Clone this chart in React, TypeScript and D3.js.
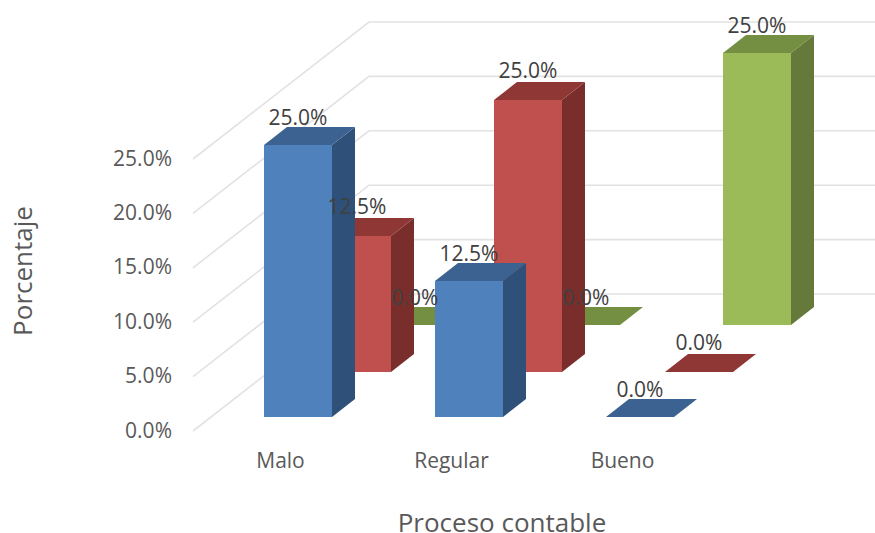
import React from "react";
import * as d3 from "d3";

// Percentages per category and series, drawn as a clustered 3-D column chart.
const categories = ["Malo", "Regular", "Bueno"];
const seriesNames = ["Serie 1", "Serie 2", "Serie 3"];
const serieBlue = [25, 12.5, 0];
const serieRed = [12.5, 25, 0];
const serieGreen = [0, 0, 25];
const seriesValues = [serieBlue, serieRed, serieGreen];
const yTicks = [0, 5, 10, 15, 20, 25];
const frontFill = ["#4F81BD", "#C0504D", "#9BBB59"];
const topFill = ["#3B6291", "#8F3735", "#748E42"];
const sideFill = ["#2F5078", "#7A2E2C", "#65793A"];

const FONT = "'Open Sans', sans-serif";
const fmt = (v: number) => v.toFixed(1) + "%";

// Oblique projection: each axis contributes its own screen offset.
const valuePx = d3.scaleLinear().domain([0, 25]).range([0, 272]);
const catX = d3.scaleLinear().domain([0, 2]).range([264, 606]);
const seriesDX = d3.scaleLinear().domain([0, 1, 2]).range([0, 59, 117]);
const seriesDY = d3.scaleLinear().domain([0, 1, 2]).range([417, 372, 325]);
const labelGap = d3.scaleLinear().domain([0, 1, 2]).range([20.5, 22.5, 20]);
const barW = 68;
const barDX = 23;
const barDY = 18;

function pts(list: [number, number][]) {
  return list.map((p) => p.join(",")).join(" ");
}

function Column({ c, s }: { c: number; s: number }) {
  const v = seriesValues[s][c];
  const x0 = catX(c) + seriesDX(s);
  const x1 = x0 + barW;
  const base = seriesDY(s);
  const top = base - valuePx(v);
  return (
    <g>
      {v > 0 && (
        <polygon
          points={pts([[x1, base], [x1 + barDX, base - barDY], [x1 + barDX, top - barDY], [x1, top]])}
          fill={sideFill[s]}
        />
      )}
      <polygon
        points={pts([[x0, top], [x1, top], [x1 + barDX, top - barDY], [x0 + barDX, top - barDY]])}
        fill={topFill[s]}
      />
      {v > 0 && <rect x={x0} y={top} width={barW} height={base - top} fill={frontFill[s]} />}
    </g>
  );
}

export default function App() {
  const wallX0 = 193;
  const wallX1 = 369;
  const floorFront = 431;
  const floorBack = 294;
  const drawOrder = [2, 1, 0];
  return (
    <svg
      width={875}
      height={533}
      style={{ position: "absolute", left: 0, top: 0, background: "#fff" }}
      fontFamily={FONT}
    >
      {yTicks.map((t) => (
        <g key={t}>
          <polyline
            fill="none"
            stroke="#E2E2E2"
            strokeWidth={1.6}
            points={pts([
              [wallX0, floorFront - valuePx(t)],
              [wallX1, floorBack - valuePx(t)],
              [875, floorBack - valuePx(t)],
            ])}
          />
          <text x={172} y={floorFront - valuePx(t) + 6.5} textAnchor="end" fontSize={21} fill="#595959">
            {fmt(t)}
          </text>
        </g>
      ))}
      {drawOrder.map((s) => (
        <g key={seriesNames[s]}>
          {categories.map((_, c) => (
            <Column key={c} c={c} s={s} />
          ))}
        </g>
      ))}
      {seriesValues.map((vals, s) =>
        vals.map((v, c) => (
          <text
            key={`${s}-${c}`}
            x={catX(c) + seriesDX(s) + barW / 2}
            y={seriesDY(s) - valuePx(v) - labelGap(s)}
            textAnchor="middle"
            fontSize={21}
            fill="#404040"
          >
            {fmt(v)}
          </text>
        ))
      )}
      {categories.map((name, c) => (
        <text key={name} x={catX(c) + 16.5} y={468} textAnchor="middle" fontSize={21} fill="#595959">
          {name}
        </text>
      ))}
      <text x={502} y={532} textAnchor="middle" fontSize={26} fill="#595959">
        Proceso contable
      </text>
      <text
        transform="translate(32,271) rotate(-90)"
        textAnchor="middle"
        fontSize={26}
        fill="#595959"
      >
        Porcentaje
      </text>
    </svg>
  );
}
